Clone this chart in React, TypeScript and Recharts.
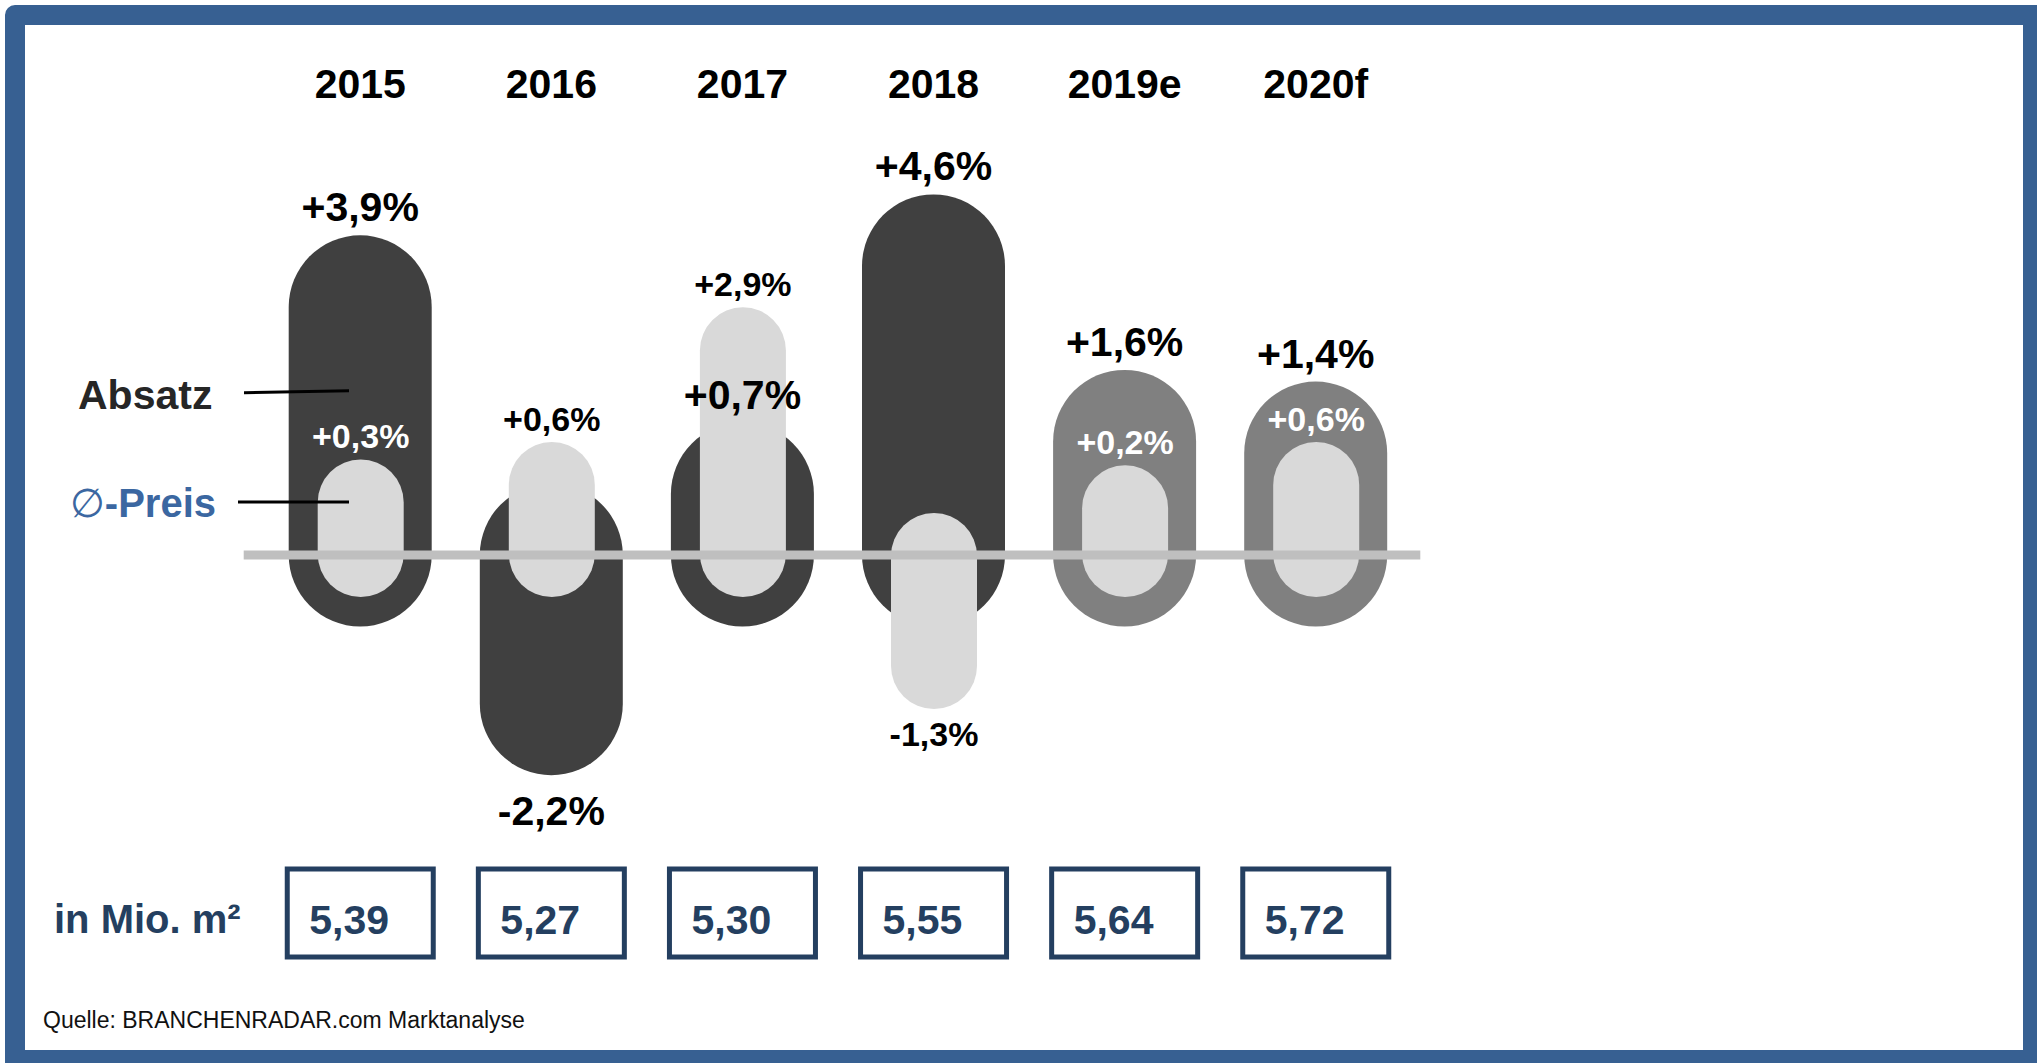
import React from "react";
import { ComposedChart, Bar, XAxis, YAxis, ReferenceLine } from "recharts";

// values
const years = ["2015", "2016", "2017", "2018", "2019e", "2020f"];
const absatzChange = [3.9, -2.2, 0.7, 4.6, 1.6, 1.4];
const preisChange = [0.3, 0.6, 2.9, -1.3, 0.2, 0.6];
const volumeMio = [5.39, 5.27, 5.3, 5.55, 5.64, 5.72];

const data = years.map((year, i) => ({
  year,
  absatz: absatzChange[i],
  preis: preisChange[i],
  volume: volumeMio[i],
}));

const W = 2037;
const H = 1063;
const FONT = "'Liberation Sans', Arial, Helvetica, sans-serif";
const NAVY = "#243f60";
const FRAME = "#376092";

const DARK = { r: 71.5, tail: 71.5, pad: 20 };
const LIGHT = { r: 43, tail: 42, pad: 35 };

const fmtPct = (v: number) => (v > 0 ? "+" : "") + v.toFixed(1).replace(".", ",") + "%";
const fmtVol = (v: number) => v.toFixed(2).replace(".", ",");
const isForecast = (year: string) => /[ef]$/.test(year);

// stadium shape from the baseline out past the value
function geom(props: any, key: string, g: { r: number; tail: number; pad: number }) {
  const { x, y, width, height, payload } = props;
  const cx = x + width / 2;
  const y1 = Math.min(y, y + height);
  const y2 = Math.max(y, y + height);
  const positive = payload[key] >= 0;
  const top = positive ? y1 - g.pad - g.r : y1 - g.tail;
  const bottom = positive ? y2 + g.tail : y2 + g.pad + g.r;
  return { cx, top, bottom, positive };
}

function DarkCapsule(props: any) {
  const { cx, top, bottom } = geom(props, "absatz", DARK);
  const fill = isForecast(props.payload.year) ? "#808080" : "#404040";
  return (
    <rect x={cx - DARK.r} y={top} width={DARK.r * 2} height={bottom - top} rx={DARK.r} fill={fill} />
  );
}

function LightCapsule(props: any) {
  const { cx, top, bottom, positive } = geom(props, "preis", LIGHT);
  const p = props.payload;
  const inside = p.preis > 0 && p.absatz > p.preis;
  return (
    <g>
      <rect x={cx - LIGHT.r} y={top} width={LIGHT.r * 2} height={bottom - top} rx={LIGHT.r} fill="#d9d9d9" />
      <text
        x={cx}
        y={positive ? top - 11 : bottom + 37}
        textAnchor="middle"
        fontFamily={FONT}
        fontWeight="bold"
        fontSize={34}
        fill={inside ? "#ffffff" : "#000000"}
      >
        {fmtPct(p.preis)}
      </text>
    </g>
  );
}

function DarkLabel(props: any) {
  const { cx, top, bottom, positive } = geom(props, "absatz", DARK);
  return (
    <text
      x={cx}
      y={positive ? top - 14 : bottom + 50}
      textAnchor="middle"
      fontFamily={FONT}
      fontWeight="bold"
      fontSize={41}
      fill="#000000"
    >
      {fmtPct(props.payload.absatz)}
    </text>
  );
}

function YearTick({ x, payload }: any) {
  return (
    <text x={x} y={98} textAnchor="middle" fontFamily={FONT} fontWeight="bold" fontSize={41} fill="#000">
      {payload.value}
    </text>
  );
}

function VolumeTick({ x, payload }: any) {
  const left = x - 73;
  return (
    <g>
      <rect x={left} y={869} width={146} height={88} fill="#fff" stroke={NAVY} strokeWidth={5} />
      <text x={left + 22} y={934} fontFamily={FONT} fontWeight="bold" fontSize={41} fill={NAVY}>
        {fmtVol(payload.value)}
      </text>
    </g>
  );
}

function Baseline(props: any) {
  return (
    <line x1={props.x1 - 21} y1={props.y1} x2={props.x2 + 9} y2={props.y2} stroke="#bfbfbf" strokeWidth={9} />
  );
}

export default function App() {
  return (
    <div style={{ position: "absolute", left: 0, top: 0, width: W, height: H, overflow: "hidden", background: "#fff" }}>
      <div
        style={{
          position: "absolute",
          left: 5,
          top: 5,
          width: 2032,
          height: 1058,
          boxSizing: "border-box",
          borderStyle: "solid",
          borderColor: FRAME,
          borderWidth: "20px 14px 13px 20px",
          borderTopLeftRadius: 10,
        }}
      />
      <div style={{ position: "absolute", left: 0, top: 0 }}>
        <ComposedChart
          width={W}
          height={H}
          data={data}
          margin={{ top: 8.5, right: 625.7, bottom: 65.5, left: 264.7 }}
        >
          <XAxis xAxisId="top" dataKey="year" orientation="top" height={20} axisLine={false} tickLine={false} tick={<YearTick />} interval={0} />
          <XAxis xAxisId="light" dataKey="year" hide />
          <XAxis xAxisId="bottom" dataKey="volume" orientation="bottom" height={150} axisLine={false} tickLine={false} tick={<VolumeTick />} interval={0} />
          <YAxis domain={[-5, 9]} allowDataOverflow hide />
          <Bar xAxisId="top" dataKey="absatz" barSize={143} shape={<DarkCapsule />} isAnimationActive={false} />
          <Bar xAxisId="light" dataKey="preis" barSize={86} shape={<LightCapsule />} isAnimationActive={false} />
          <ReferenceLine xAxisId="top" y={0} stroke="#bfbfbf" strokeWidth={9} shape={<Baseline />} />
          <Bar xAxisId="bottom" dataKey="absatz" barSize={143} shape={<DarkLabel />} isAnimationActive={false} />
        </ComposedChart>
      </div>
      <svg width={W} height={H} style={{ position: "absolute", left: 0, top: 0, pointerEvents: "none" }}>
        <text x={78} y={409} fontFamily={FONT} fontWeight="bold" fontSize={41} fill="#262626">
          Absatz
        </text>
        <line x1={244} y1={392.7} x2={349} y2={390.7} stroke="#000" strokeWidth={3} />
        <text x={70} y={517} fontFamily={FONT} fontWeight="bold" fontSize={40} fill="#3b67a1">
          <tspan fontFamily="'DejaVu Sans', sans-serif" fontWeight="normal">∅</tspan>
          -Preis
        </text>
        <line x1={238} y1={502} x2={349} y2={502} stroke="#000" strokeWidth={3} />
        <text x={54} y={933} fontFamily={FONT} fontWeight="bold" fontSize={40} fill={NAVY}>
          in Mio. m²
        </text>
        <text x={43} y={1028} fontFamily={FONT} fontSize={23} fill="#111">
          Quelle: BRANCHENRADAR.com Marktanalyse
        </text>
      </svg>
    </div>
  );
}
